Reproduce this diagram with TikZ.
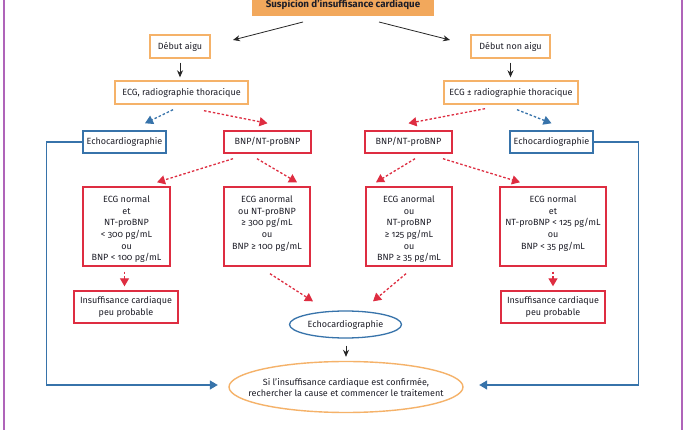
\documentclass[tikz,border=0pt]{standalone}
\usepackage{fontspec}
\setmainfont{Fira Sans}[Numbers=OldStyle]
\usetikzlibrary{arrows.meta,shapes.geometric}
\definecolor{orangeF}{RGB}{242,168,92}
\definecolor{orangeB}{RGB}{245,178,105}
\definecolor{redB}{RGB}{222,45,65}
\definecolor{blueB}{RGB}{55,115,170}
\definecolor{purpleL}{RGB}{175,100,185}
\definecolor{txt}{RGB}{30,30,40}
\newcommand{\tbox}[2]{\parbox[c][79pt][t]{#1}{\centering\fontsize{9}{11.6}\selectfont\vspace*{9pt}#2\par}}
\begin{document}
\begin{tikzpicture}[x=1pt,y=-1pt,
  every node/.style={text=txt,font=\fontsize{9}{11.6}\selectfont},
  every label/.style={text=txt,font=\fontsize{9}{11}\selectfont,align=center,inner sep=0pt},
  obox/.style={draw=orangeB,line width=1.4pt,rectangle,inner sep=0pt,minimum height=23pt,align=center},
  rbox/.style={draw=redB,line width=1.4pt,rectangle,inner sep=0pt,align=center},
  bbox/.style={draw=blueB,line width=1.4pt,rectangle,inner sep=0pt,minimum height=22pt,align=center},
  blk/.style={draw=black!85,line width=0.8pt,-{Stealth[length=7pt,width=6pt]}},
  rdash/.style={draw=redB,line width=1.3pt,dash pattern=on 2.5pt off 2pt,-{Triangle[length=8pt,width=9pt]}},
  bdash/.style={draw=blueB,line width=1.3pt,dash pattern=on 2.5pt off 2pt,-{Triangle[length=8pt,width=9pt]}},
  bline/.style={draw=blueB,line width=1.3pt,-{Triangle[length=8pt,width=9pt]}}
]
\useasboundingbox (0,0) rectangle (686,430);
\fill[white] (0,0) rectangle (686,430);
\draw[purpleL,line width=2pt] (3.5,0) -- (3.5,430);
\draw[purpleL,line width=2pt] (682,0) -- (682,430);

% nodes
\node[fill=orangeF,inner sep=0pt,minimum width=182pt,minimum height=23pt,font=\fontsize{9.8}{10}\selectfont\bfseries] (top) at (343,4.5) {Suspicion d’insuffisance cardiaque};
\node[obox,minimum width=60pt] (debA) at (180,46.5) {Début aigu};
\node[obox,minimum width=79pt] (debN) at (510.5,46.5) {Début non aigu};
\node[obox,minimum width=133pt] (ecgA) at (181.5,92.5) {ECG, radiographie thoracique};
\node[obox,minimum width=134pt] (ecgN) at (511,92.5) {ECG ± radiographie thoracique};
\node[bbox,minimum width=83pt] (echoL) at (124.5,142) {Echocardiographie};
\node[rbox,minimum width=87pt,minimum height=22pt] (bnpL) at (267.5,142) {BNP/NT-proBNP};
\node[rbox,minimum width=87pt,minimum height=22pt] (bnpR) at (408.5,142) {BNP/NT-proBNP};
\node[bbox,minimum width=83pt] (echoR) at (551.5,142) {Echocardiographie};

\node[rbox] (r4a) at (126.5,226.5) {\tbox{87pt}{ECG normal\\et\\NT-proBNP\\< 300 pg/mL\\ou\\BNP < 100 pg/mL}};
\node[rbox] (r4b) at (267,226.5) {\tbox{86pt}{ECG anormal\\ou NT-proBNP\\≥ 300 pg/mL\\ou\\BNP ≥ 100 pg/mL}};
\node[rbox] (r4c) at (409,226.5) {\tbox{86pt}{ECG anormal\\ou\\NT-proBNP\\≥ 125 pg/mL\\ou\\BNP ≥ 35 pg/mL}};
\node[rbox] (r4d) at (553,226.5) {\tbox{106pt}{ECG normal\\et\\NT-proBNP < 125 pg/mL\\ou\\BNP < 35 pg/mL}};

\node[rbox,minimum width=104pt,minimum height=32pt] (icL) at (126,307) {Insuffisance cardiaque\\peu probable};
\node[rbox,minimum width=104pt,minimum height=32pt] (icR) at (553,307) {Insuffisance cardiaque\\peu probable};

\node[ellipse,draw=blueB,line width=1.3pt,inner sep=0pt,minimum width=112pt,minimum height=27pt,
  label={center:Echocardiographie}] (echoE) at (345.5,324.5) {};
\node[ellipse,draw=orangeB,line width=1.4pt,inner sep=0pt,minimum width=234pt,minimum height=51pt,
  label={center:Si l’insuffisance cardiaque est confirmée,\\rechercher la cause et commencer le traitement}] (final) at (346,387) {};

% coordinates
\coordinate (t1) at (303,22); \coordinate (t1e) at (233,40);
\coordinate (t2) at (379,22); \coordinate (t2e) at (450,40);

% connectors
\draw[blk] (t1) -- (t1e);
\draw[blk] (t2) -- (t2e);
\draw[blk] ([yshift=-4pt]debA.south) -- ([yshift=3pt]ecgA.north -| debA.south);
\draw[blk] ([yshift=-4pt]debN.south) -- ([yshift=3pt]ecgN.north -| debN.south);

\draw[bdash] ([xshift=-8.5pt,yshift=-5pt]ecgA.south) -- ([xshift=20.5pt,yshift=7pt]echoL.north);
\draw[rdash] ([xshift=22.5pt,yshift=-6pt]ecgA.south) -- ([yshift=7pt]bnpL.north);
\draw[rdash] ([xshift=-26pt,yshift=-4pt]ecgN.south) -- ([yshift=7pt]bnpR.north);
\draw[bdash] ([xshift=6pt,yshift=-5pt]ecgN.south) -- ([yshift=7pt]echoR.north);

\draw[rdash] ([xshift=-34.5pt,yshift=-5pt]bnpL.south) -- ([xshift=30.5pt,yshift=4pt]r4a.north);
\draw[rdash] ([xshift=-10.5pt,yshift=-5pt]bnpL.south) -- ([xshift=30pt,yshift=4pt]r4b.north);
\draw[rdash] ([xshift=6.5pt,yshift=-5pt]bnpR.south) -- ([xshift=-33pt,yshift=4pt]r4c.north);
\draw[rdash] ([xshift=34.5pt,yshift=-5pt]bnpR.south) -- ([xshift=-33pt,yshift=4pt]r4d.north);

\draw[rdash] ([xshift=-2pt,yshift=-5pt]r4a.south) -- ([xshift=-1.5pt,yshift=4pt]icL.north);
\draw[rdash] ([yshift=-5pt]r4d.south) -- ([yshift=4pt]icR.north);
\draw[rdash] ([xshift=3pt,yshift=-7pt]r4b.south) -- ([xshift=-32.5pt,yshift=9pt]echoE.north);
\draw[rdash] ([xshift=-3pt,yshift=-7pt]r4c.south) -- ([xshift=27.5pt,yshift=9pt]echoE.north);

\draw[blk] ([xshift=0.5pt,yshift=-7pt]echoE.south) -- ([yshift=4pt]final.north);

\draw[bline] (echoL.west) -- ++(-35.5,0) |- ([xshift=-10.5pt,yshift=2pt]final.west);
\draw[bline] (echoR.east) -- ++(45,0) |- ([xshift=15.5pt,yshift=2pt]final.east);
\end{tikzpicture}
\end{document}
